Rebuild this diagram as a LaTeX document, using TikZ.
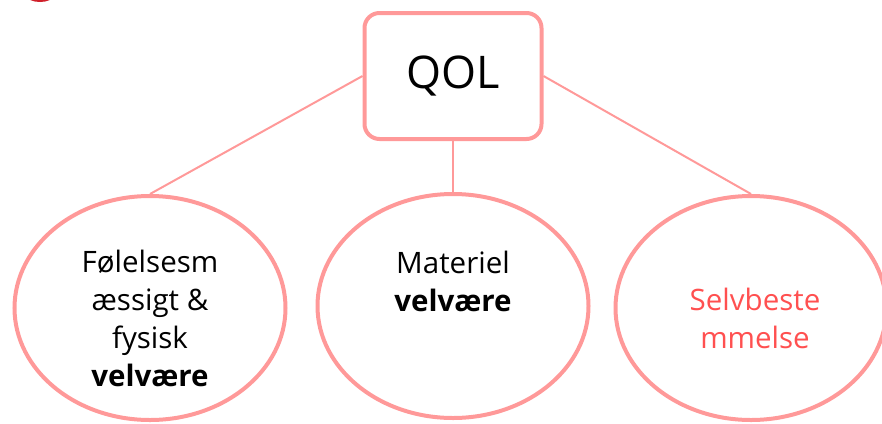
\documentclass[tikz,border=0pt]{standalone}
\usepackage{fontspec}
\setmainfont{Open Sans}
\usetikzlibrary{shapes.geometric}
\definecolor{pinkline}{HTML}{FF9999}
\definecolor{redtext}{HTML}{FF5050}
\definecolor{smudge}{HTML}{D0202A}
\begin{document}
\begin{tikzpicture}[x=1pt,y=-1pt,
  bubble/.style={ellipse, draw=pinkline, line width=4pt, minimum width=271pt, minimum height=224pt, inner sep=0pt},
  bubbletext/.style={align=center, inner sep=0pt, font=\fontsize{29.5}{38}\selectfont},
  topbox/.style={rectangle, rounded corners=15pt, draw=pinkline, line width=4pt, minimum width=177pt, minimum height=126pt, font=\fontsize{45}{50}\selectfont},
  link/.style={draw=pinkline, line width=2pt}]
\useasboundingbox (0,0) rectangle (882,423);
\begin{scope}
\clip (0,0) rectangle (882,423);
\fill[smudge] (40,-4) ellipse [x radius=13pt, y radius=6pt];
\end{scope}
\node[topbox] (qol) at (453,76) {QOL};
\node[bubble] (e1) at (150,308) {};
\node[bubble] (e2) at (453,306) {};
\node[bubble] (e3) at (751,308) {};
\draw[link] (qol.west) -- (e1.north);
\draw[link] (qol.south) -- (e2.north);
\draw[link] (qol.east) -- (e3.north);
\node[bubbletext] (t1) at (150,318) {Følelsesm\\æssigt \&\\fysisk\\\textbf{velvære}};
\node[bubbletext] (t2) at (453,281) {Materiel\\\textbf{velvære}};
\node[bubbletext, text=redtext] (t3) at (755,318) {Selvbeste\\mmelse};
\end{tikzpicture}
\end{document}
